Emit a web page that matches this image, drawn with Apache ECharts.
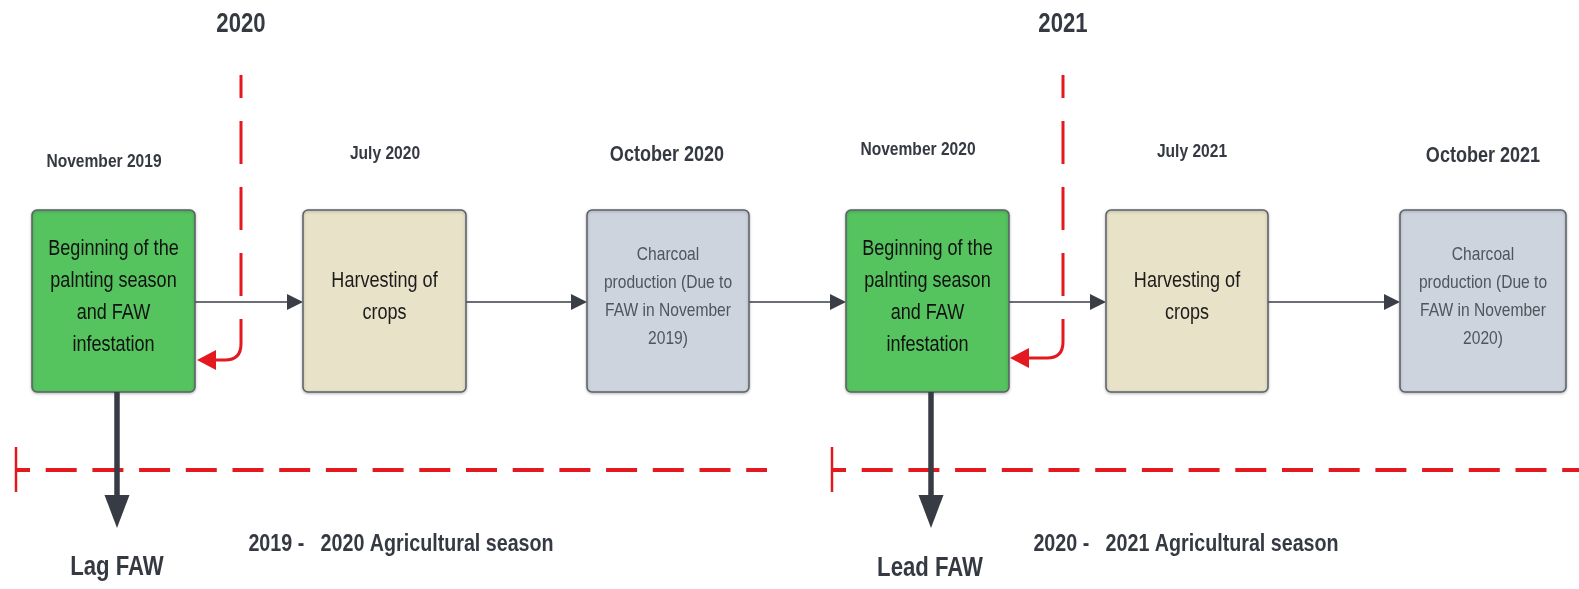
<!DOCTYPE html>
<html>
<head>
<meta charset="utf-8">
<title>FAW timeline</title>
<script src="https://cdn.jsdelivr.net/npm/echarts@6/dist/echarts.min.js"></script>
<style>
  html, body { margin: 0; padding: 0; background: #fff; }
  #main { width: 1579px; height: 589px; }
</style>
</head>
<body>
<div id="main"></div>
<script>
// stages of the timeline
var stageDates = ['November 2019', 'July 2020', 'October 2020', 'November 2020', 'July 2021', 'October 2021'];
var stageTexts = [
  'Beginning of the\npalnting season\nand FAW\ninfestation',
  'Harvesting of\ncrops',
  'Charcoal\nproduction (Due to\nFAW in November\n2019)',
  'Beginning of the\npalnting season\nand FAW\ninfestation',
  'Harvesting of\ncrops',
  'Charcoal\nproduction (Due to\nFAW in November\n2020)'
];
var stageKinds = ['planting', 'harvest', 'charcoal', 'planting', 'harvest', 'charcoal'];
var yearMarks = ['2020', '2021'];
var fawLabels = ['Lag FAW', 'Lead FAW'];
var seasonLabels = ['2019 -   2020 Agricultural season', '2020 -   2021 Agricultural season'];

// layout, in pixels of the 1579x589 canvas
var boxLeft = [32, 303, 587, 846, 1106, 1400];
var boxRight = [195, 466, 749, 1009, 1268, 1566];
var boxTop = 210, boxBottom = 392, flowY = 302;
var dateX = [104, 385, 667, 918, 1192, 1483];
var dateY = [162, 154, 155, 150, 152, 156];
var dateSize = [19, 19, 22, 19, 19, 22];
var yearX = [241, 1063], yearY = 25, yearLineTop = 75, yearArrowY = [360, 358], yearArrowTip = [197, 1010];
var fawX = [117, 931], fawTip = 528, fawLabelX = [117, 930], fawLabelY = [568, 569];
var seasonX = [401, 1186], seasonY = 544;
var seasonFrom = [16, 832], seasonTo = [767, 1579], seasonLineY = 470;

var kindFill = { planting: '#55c45f', harvest: '#e8e2c8', charcoal: '#cdd4dd' };
var kindText = { planting: '#111111', harvest: '#1c1c1c', charcoal: '#4f555d' };
var kindFont = { planting: [22, 32], harvest: [22, 32], charcoal: [19, 28] };
var font = "'Liberation Sans', Arial, sans-serif";
var squeeze = 0.82; // the source lettering is a condensed face
var dark = '#3a3f47';
var red = '#e3191f';

function tri(a, b, c, color) {
  return { type: 'polygon', shape: { points: [a, b, c] }, style: { fill: color } };
}

var chart = echarts.init(document.getElementById('main'));
chart.setOption({
  animation: false,
  backgroundColor: '#fff',
  grid: { left: 0, right: 0, top: 0, bottom: 0 },
  xAxis: { type: 'value', min: 0, max: 1579, show: false },
  yAxis: { type: 'value', min: 0, max: 589, inverse: true, show: false },
  series: [
    {
      // agricultural season dashed lines
      type: 'custom',
      data: seasonFrom.map(function (x, i) { return [x, seasonTo[i], seasonLineY]; }),
      renderItem: function (params, api) {
        var a = api.coord([api.value(0), api.value(2)]);
        var b = api.coord([api.value(1), api.value(2)]);
        return {
          type: 'group',
          children: [
            { type: 'line', shape: { x1: a[0], y1: a[1] - 23, x2: a[0], y2: a[1] + 22 }, style: { stroke: red, lineWidth: 2.5 } },
            { type: 'line', shape: { x1: a[0], y1: a[1], x2: b[0], y2: b[1] },
              style: { stroke: red, lineWidth: 4, lineDash: [31, 15.7], lineDashOffset: 17 } }
          ]
        };
      }
    },
    {
      // horizontal flow arrows between the stages
      type: 'custom',
      data: boxRight.slice(0, 5).map(function (x, i) { return [x, boxLeft[i + 1], flowY]; }),
      renderItem: function (params, api) {
        var a = api.coord([api.value(0), api.value(2)]);
        var b = api.coord([api.value(1), api.value(2)]);
        return {
          type: 'group',
          children: [
            { type: 'line', shape: { x1: a[0], y1: a[1], x2: b[0] - 14, y2: b[1] }, style: { stroke: dark, lineWidth: 1.6 } },
            tri([b[0], b[1]], [b[0] - 16, b[1] - 8], [b[0] - 16, b[1] + 8], dark)
          ]
        };
      }
    },
    {
      // stage boxes
      type: 'custom',
      data: boxLeft.map(function (x, i) { return [x, boxTop, boxRight[i], boxBottom]; }),
      renderItem: function (params, api) {
        var p0 = api.coord([api.value(0), api.value(1)]);
        var p1 = api.coord([api.value(2), api.value(3)]);
        var i = params.dataIndex;
        var k = stageKinds[i];
        return {
          type: 'group',
          children: [
            { type: 'rect',
              shape: { x: p0[0], y: p0[1], width: p1[0] - p0[0], height: p1[1] - p0[1], r: 5 },
              style: { fill: kindFill[k], stroke: '#5b6068', lineWidth: 1.5,
                       shadowBlur: 3, shadowColor: 'rgba(0,0,0,0.25)', shadowOffsetY: 1 } },
            { type: 'text', x: (p0[0] + p1[0]) / 2, y: (p0[1] + p1[1]) / 2 - 4, scaleX: squeeze,
              style: { text: stageTexts[i], x: 0, y: 0,
                       align: 'center', verticalAlign: 'middle', fill: kindText[k],
                       fontFamily: font, fontSize: kindFont[k][0], lineHeight: kindFont[k][1] } }
          ]
        };
      }
    },
    {
      // red year markers with curved arrow
      type: 'custom',
      data: yearX.map(function (x, i) { return [x, yearLineTop, yearArrowY[i], yearArrowTip[i]]; }),
      renderItem: function (params, api) {
        var top = api.coord([api.value(0), api.value(1)]);
        var ay = api.coord([api.value(0), api.value(2)])[1];
        var tip = api.coord([api.value(3), api.value(2)])[0];
        var x = top[0];
        var d = 'M' + x + ' ' + (top[1] + 244) + ' L' + x + ' ' + (ay - 16) +
                ' Q' + x + ' ' + ay + ' ' + (x - 16) + ' ' + ay + ' L' + (tip + 16) + ' ' + ay;
        return {
          type: 'group',
          children: [
            { type: 'line', shape: { x1: x, y1: top[1], x2: x, y2: top[1] + 221 },
              style: { stroke: red, lineWidth: 3, lineDash: [43, 23], lineDashOffset: 20 } },
            { type: 'path', shape: { pathData: d }, style: { stroke: red, lineWidth: 3, fill: null } },
            tri([tip, ay], [tip + 19, ay - 10], [tip + 19, ay + 10], red)
          ]
        };
      }
    },
    {
      // downward FAW arrows
      type: 'custom',
      data: fawX.map(function (x) { return [x, boxBottom, fawTip]; }),
      renderItem: function (params, api) {
        var a = api.coord([api.value(0), api.value(1)]);
        var b = api.coord([api.value(0), api.value(2)]);
        return {
          type: 'group',
          children: [
            { type: 'line', shape: { x1: a[0], y1: a[1], x2: b[0], y2: b[1] - 30 }, style: { stroke: '#363b44', lineWidth: 5.5 } },
            tri([b[0], b[1]], [b[0] - 12.5, b[1] - 33], [b[0] + 12.5, b[1] - 33], '#363b44')
          ]
        };
      }
    },
    {
      // all free text labels
      type: 'custom',
      data: [].concat(
        stageDates.map(function (t, i) { return [dateX[i], dateY[i], dateSize[i]]; }),
        yearMarks.map(function (t, i) { return [yearX[i], yearY, 27]; }),
        fawLabels.map(function (t, i) { return [fawLabelX[i], fawLabelY[i], 27]; }),
        seasonLabels.map(function (t, i) { return [seasonX[i], seasonY, 24]; })
      ),
      renderItem: function (params, api) {
        var texts = [].concat(stageDates, yearMarks, fawLabels, seasonLabels);
        var p = api.coord([api.value(0), api.value(1)]);
        return {
          type: 'text', x: p[0], y: p[1], scaleX: squeeze,
          style: { text: texts[params.dataIndex], x: 0, y: 0, align: 'center', verticalAlign: 'middle',
                   fill: '#353a42', fontFamily: font, fontWeight: 'bold', fontSize: api.value(2) }
        };
      }
    }
  ]
});
</script>
</body>
</html>
